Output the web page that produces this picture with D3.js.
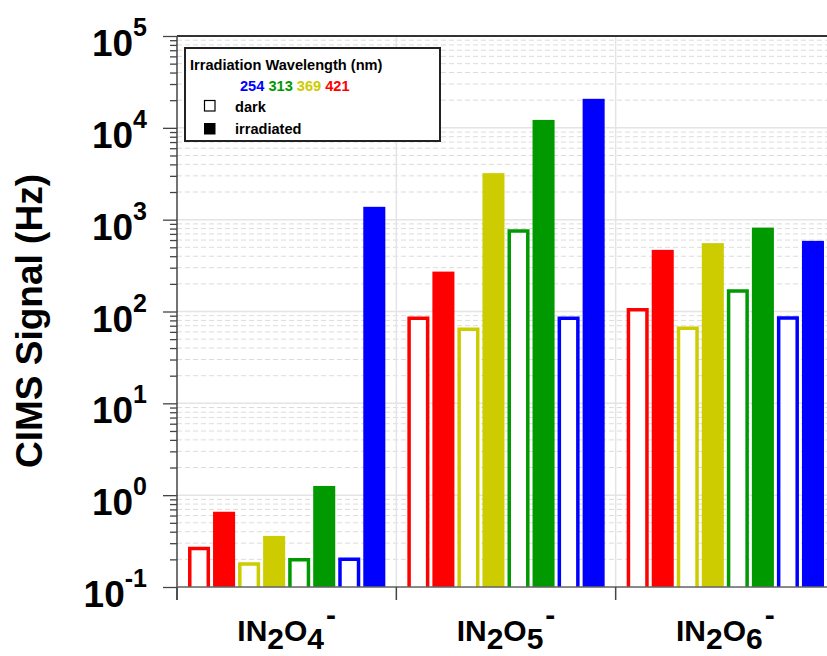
<!DOCTYPE html>
<html>
<head>
<meta charset="utf-8">
<script src="https://cdn.jsdelivr.net/npm/d3@7"></script>
<style>
  body { margin: 0; background: #fff; }
  svg { display: block; font-family: "Liberation Sans", Arial, sans-serif; font-weight: bold; }
</style>
</head>
<body>
<svg width="827" height="656"></svg>
<script>
// data
var categories = ["IN2O4", "IN2O5", "IN2O6"];
var catSub = [["IN", "2", "O", "4"], ["IN", "2", "O", "5"], ["IN", "2", "O", "6"]];
var wavelengths = [421, 369, 313, 254];
var waveColors = ["#ff0000", "#cccc00", "#009900", "#0000ff"];
var dark421 = [0.275, 88, 109];
var irr421 = [0.66, 272, 469];
var dark369 = [0.186, 67, 68.5];
var irr369 = [0.36, 3210, 555];
var dark313 = [0.207, 788, 175];
var irr313 = [1.26, 12200, 820];
var dark254 = [0.21, 88, 89];
var irr254 = [1380, 20700, 588];
var legendOrder = [254, 313, 369, 421];

var series = [
    { key: "d421", wave: 421, dark: true, values: dark421 },
    { key: "i421", wave: 421, dark: false, values: irr421 },
    { key: "d369", wave: 369, dark: true, values: dark369 },
    { key: "i369", wave: 369, dark: false, values: irr369 },
    { key: "d313", wave: 313, dark: true, values: dark313 },
    { key: "i313", wave: 313, dark: false, values: irr313 },
    { key: "d254", wave: 254, dark: true, values: dark254 },
    { key: "i254", wave: 254, dark: false, values: irr254 }
];

var color = d3.scaleOrdinal().domain(wavelengths).range(waveColors);

var pLeft = 177, pRight = 835, pTop = 36, pBottom = 587;
var svg = d3.select("svg");

var x0 = d3.scaleBand().domain(categories).range([pLeft, pRight]);
var x1 = d3.scaleBand()
    .domain(series.map(function (s) { return s.key; }))
    .range([0, x0.bandwidth()])
    .paddingInner(0.12)
    .paddingOuter(0.44);
var y = d3.scaleLog().domain([0.1, 1e5]).range([pBottom, pTop]);

var ticks = y.ticks();
function isMajor(v) { return Math.abs(Math.log10(v) - Math.round(Math.log10(v))) < 1e-9; }

// grid
var grid = svg.append("g");
grid.selectAll("line.minor")
    .data(ticks.filter(function (d) { return !isMajor(d); }))
    .enter().append("line")
    .attr("x1", pLeft).attr("x2", 827)
    .attr("y1", function (d) { return y(d); })
    .attr("y2", function (d) { return y(d); })
    .attr("stroke", "#dcdcdc")
    .attr("stroke-width", 1)
    .attr("stroke-dasharray", "5,3");
grid.selectAll("line.major")
    .data(ticks.filter(isMajor))
    .enter().append("line")
    .attr("x1", pLeft).attr("x2", 827)
    .attr("y1", function (d) { return y(d); })
    .attr("y2", function (d) { return y(d); })
    .attr("stroke", "#e4e4e4")
    .attr("stroke-width", 1.5);
grid.selectAll("line.v")
    .data(categories.slice(1))
    .enter().append("line")
    .attr("x1", function (d) { return x0(d); })
    .attr("x2", function (d) { return x0(d); })
    .attr("y1", pTop).attr("y2", pBottom)
    .attr("stroke", "#e4e4e4")
    .attr("stroke-width", 1.5);

// bars
var sw = 3.5;
var groups = svg.append("g")
    .selectAll("g")
    .data(categories)
    .enter().append("g")
    .attr("transform", function (d) { return "translate(" + x0(d) + ",0)"; });

groups.selectAll("rect")
    .data(function (d, i) {
        return series.filter(function (s) { return !s.dark; })
            .map(function (s) { return { s: s, v: s.values[i] }; });
    })
    .enter().append("rect")
    .attr("x", function (d) { return x1(d.s.key); })
    .attr("y", function (d) { return y(d.v); })
    .attr("width", x1.bandwidth())
    .attr("height", function (d) { return pBottom - y(d.v); })
    .attr("fill", function (d) { return color(d.s.wave); });

groups.selectAll("path")
    .data(function (d, i) {
        return series.filter(function (s) { return s.dark; })
            .map(function (s) { return { s: s, v: s.values[i] }; });
    })
    .enter().append("path")
    .attr("d", function (d) {
        var xl = x1(d.s.key) + sw / 2, xr = x1(d.s.key) + x1.bandwidth() - sw / 2;
        var yt = y(d.v) + sw / 2;
        return "M" + xl + "," + pBottom + "V" + yt + "H" + xr + "V" + pBottom;
    })
    .attr("fill", "#fff")
    .attr("stroke", function (d) { return color(d.s.wave); })
    .attr("stroke-width", sw);

// top frame
svg.append("line")
    .attr("x1", pLeft).attr("x2", 827)
    .attr("y1", pTop).attr("y2", pTop)
    .attr("stroke", "#333").attr("stroke-width", 2);

// y axis
var yAxis = svg.append("g")
    .attr("transform", "translate(" + pLeft + ",0)")
    .call(d3.axisLeft(y).tickValues(ticks).tickSize(14).tickFormat(""));
yAxis.select(".domain").attr("stroke", "#444").attr("stroke-width", 1.5)
    .attr("d", "M0," + pTop + "V600");
yAxis.selectAll(".tick line")
    .attr("stroke", "#444").attr("stroke-width", 1.3)
    .attr("x2", function (d) { return isMajor(d) ? -14 : -7; });

var labels = svg.append("g");
labels.selectAll("text")
    .data(ticks.filter(isMajor))
    .enter().append("text")
    .attr("x", 147)
    .attr("y", function (d) { return y(d) + 20; })
    .attr("text-anchor", "end")
    .attr("fill", "#000")
    .each(function (d) {
        var t = d3.select(this);
        t.append("tspan").attr("font-size", 37).text("10");
        t.append("tspan").attr("font-size", 25).attr("dy", -20)
            .text(Math.round(Math.log10(d)));
    });

// x axis
var xAxis = svg.append("g")
    .attr("transform", "translate(0," + pBottom + ")");
xAxis.append("line")
    .attr("x1", pLeft).attr("x2", 827)
    .attr("stroke", "#666").attr("stroke-width", 1.5);
xAxis.selectAll("line.tk")
    .data(categories)
    .enter().append("line")
    .attr("x1", function (d) { return x0(d); })
    .attr("x2", function (d) { return x0(d); })
    .attr("y1", 0).attr("y2", 13)
    .attr("stroke", "#444").attr("stroke-width", 1.5);

svg.append("g").selectAll("text")
    .data(categories)
    .enter().append("text")
    .attr("x", function (d) { return x0(d) + x0.bandwidth() / 2; })
    .attr("y", 641)
    .attr("text-anchor", "middle")
    .attr("font-size", 30)
    .each(function (d, i) {
        var t = d3.select(this), p = catSub[i];
        t.append("tspan").text(p[0]);
        t.append("tspan").attr("dy", 8).text(p[1]);
        t.append("tspan").attr("dy", -8).text(p[2]);
        t.append("tspan").attr("dy", 8).text(p[3]);
        t.append("tspan").attr("dy", -24).attr("dx", 2).text("-");
    });

// y title
svg.append("text")
    .attr("transform", "translate(42,321) rotate(-90)")
    .attr("text-anchor", "middle")
    .attr("font-size", 37)
    .text("CIMS Signal (Hz)");

// legend
var lg = svg.append("g");
lg.append("rect")
    .attr("x", 185).attr("y", 48).attr("width", 255).attr("height", 93)
    .attr("fill", "#fff").attr("stroke", "#222").attr("stroke-width", 2);
lg.append("text")
    .attr("x", 190).attr("y", 70)
    .attr("font-size", 14.6)
    .text("Irradiation Wavelength (nm)");
var wt = lg.append("text").attr("x", 240).attr("y", 91).attr("font-size", 14.6);
legendOrder.forEach(function (w, i) {
    wt.append("tspan").attr("fill", color(w)).text((i ? " " : "") + w);
});
lg.append("rect")
    .attr("x", 204.5).attr("y", 100.5).attr("width", 10.5).attr("height", 10.5)
    .attr("fill", "#fff").attr("stroke", "#000").attr("stroke-width", 1.2);
lg.append("text").attr("x", 235).attr("y", 112).attr("font-size", 14.6).text("dark");
lg.append("rect")
    .attr("x", 204).attr("y", 123).attr("width", 11.5).attr("height", 11.5)
    .attr("fill", "#000");
lg.append("text").attr("x", 235).attr("y", 134).attr("font-size", 14.6).text("irradiated");
</script>
</body>
</html>
